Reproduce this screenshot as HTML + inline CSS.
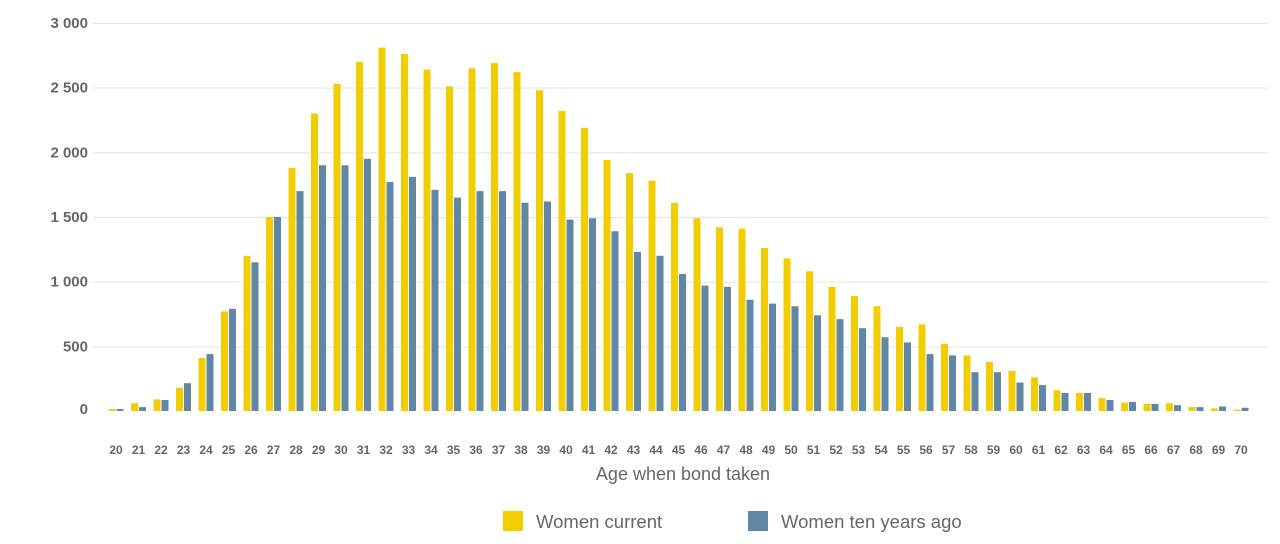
<!DOCTYPE html>
<html><head><meta charset="utf-8"><style>
body{margin:0;background:#fff;}
svg{display:block;font-family:"Liberation Sans",sans-serif;}
</style></head><body>
<svg id="chart" width="1280" height="544" xmlns="http://www.w3.org/2000/svg">
<g id="grid"></g>
<g id="yticks"></g>
<g id="bars"></g>
<g id="xticks"></g>
<text x="683" y="480" text-anchor="middle" font-size="18" fill="#666">Age when bond taken</text>
<g>
<g><rect x="503" y="511" width="20" height="20" fill="#F2CD00"/><text x="536" y="528" font-size="18.5" fill="#666">Women current</text></g>
<g><rect x="748" y="511" width="20" height="20" fill="#6287A4"/><text x="781" y="528" font-size="18.5" fill="#666">Women ten years ago</text></g>
</g>
</svg>
<script>
const categories=[20,21,22,23,24,25,26,27,28,29,30,31,32,33,34,35,36,37,38,39,40,41,42,43,44,45,46,47,48,49,50,51,52,53,54,55,56,57,58,59,60,61,62,63,64,65,66,67,68,69,70];
const womenCurrent=[15,60,90,180,410,770,1200,1500,1880,2300,2530,2700,2810,2760,2640,2510,2650,2690,2620,2480,2320,2190,1940,1840,1780,1610,1490,1420,1410,1260,1180,1080,960,890,810,650,670,520,430,380,310,260,160,140,100,65,55,60,30,20,10];
const womenTenYearsAgo=[15,30,85,215,440,790,1150,1500,1700,1900,1900,1950,1770,1810,1710,1650,1700,1700,1610,1620,1480,1490,1390,1230,1200,1060,970,960,860,830,810,740,710,640,570,530,440,430,300,300,220,200,140,140,85,70,55,45,30,35,25];
const yTicks=[0,500,1000,1500,2000,2500,3000];
const yTickLabels=["0","500","1 000","1 500","2 000","2 500","3 000"];
const NS="http://www.w3.org/2000/svg";
const y0=411,y1=23,yMax=3000;
function yScale(v){return y0-(v/yMax)*(y0-y1);}
function xScale(i){return 116+i*22.5;}
function mk(tag,attrs,parent){const e=document.createElementNS(NS,tag);for(const k in attrs)e.setAttribute(k,attrs[k]);parent.appendChild(e);return e;}
const grid=document.getElementById('grid'),yt=document.getElementById('yticks'),bars=document.getElementById('bars'),xt=document.getElementById('xticks');
yTicks.forEach((v,i)=>{
  if(v>0){const l=mk('line',{x1:93,x2:1268,y1:yScale(v)+0.5,y2:yScale(v)+0.5,stroke:'#e3e3e3','stroke-width':1},grid);
  
  }
  const t=mk('text',{x:88,y:yScale(v)+(v===0?3:5),'text-anchor':'end','font-size':15,'font-weight':'bold',fill:'#666'},yt);
  t.textContent=yTickLabels[i];
  
  
});
categories.forEach((c,i)=>{
  const cx=xScale(i);
  const a=mk('rect',{x:cx-7.5,y:yScale(womenCurrent[i]),width:7,height:y0-yScale(womenCurrent[i]),fill:'#F2CD00'},bars);
  
  
  const b=mk('rect',{x:cx+0.5,y:yScale(womenTenYearsAgo[i]),width:7,height:y0-yScale(womenTenYearsAgo[i]),fill:'#6287A4'},bars);
  
  
  const t=mk('text',{x:cx,y:454,'text-anchor':'middle','font-size':12,'font-weight':'bold',fill:'#666'},xt);
  t.textContent=c;
  
  
});
</script>
</body></html>
